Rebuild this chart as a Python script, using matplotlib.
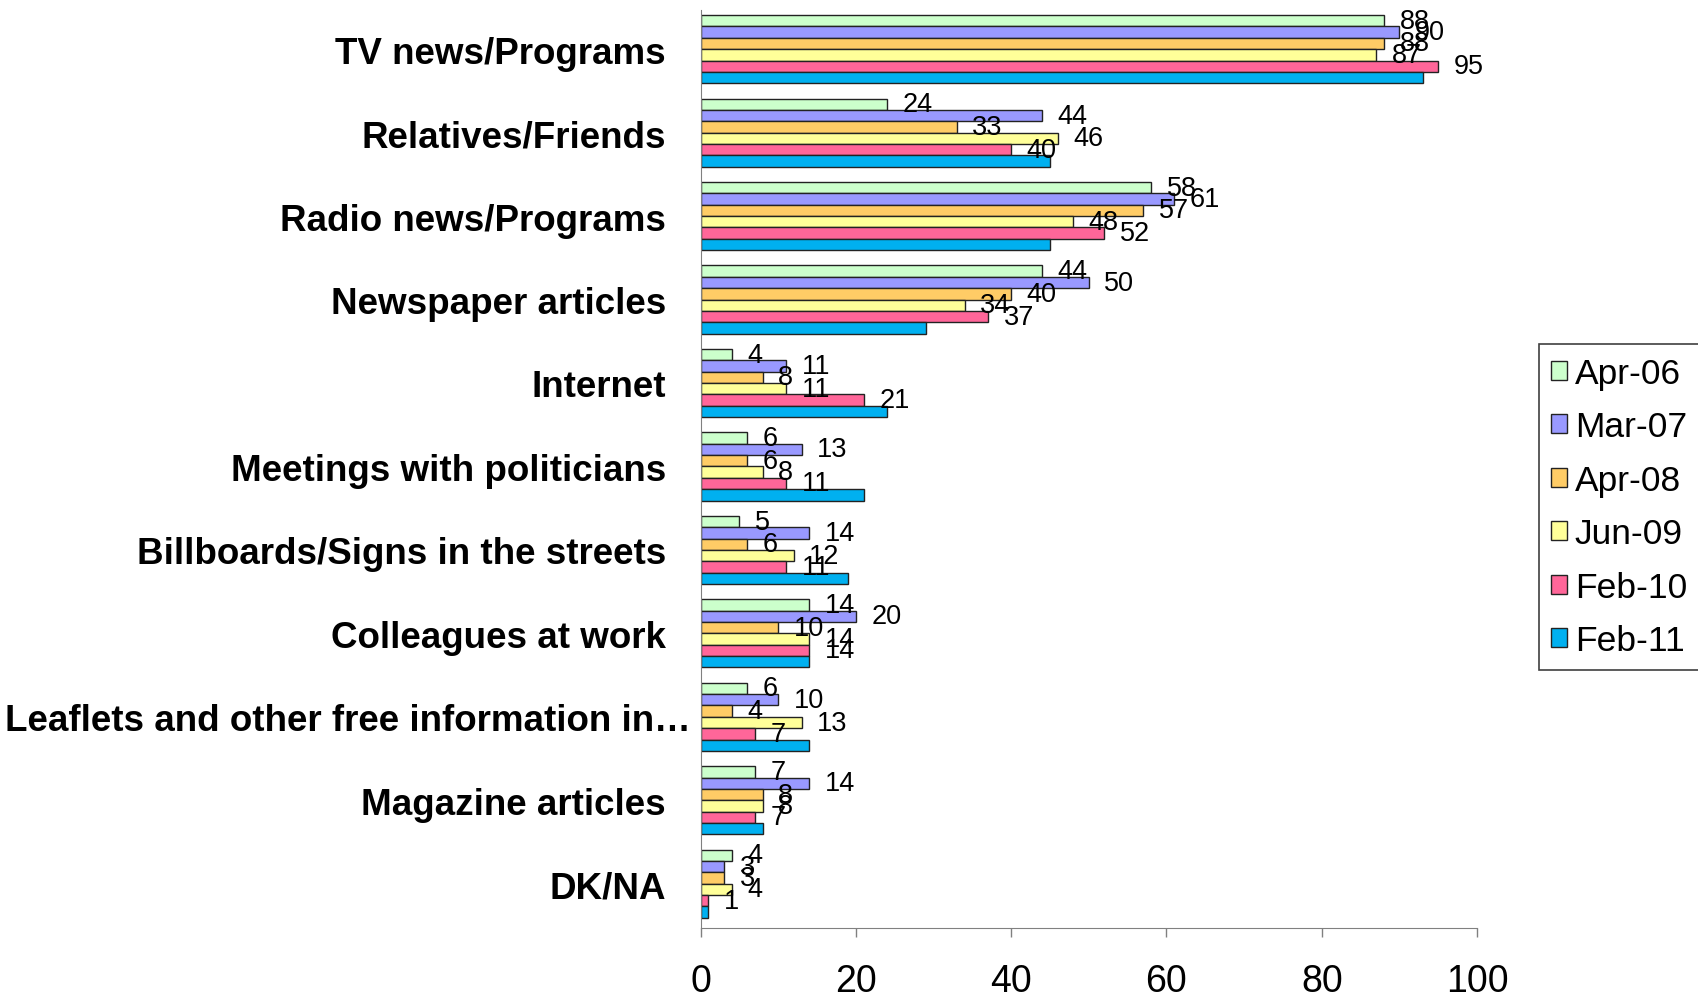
import matplotlib.pyplot as plt
import numpy as np

plt.rcParams['font.family'] = ['Liberation Sans', 'DejaVu Sans']

categories = ['TV news/Programs', 'Relatives/Friends', 'Radio news/Programs',
              'Newspaper articles', 'Internet', 'Meetings with politicians',
              'Billboards/Signs in the streets', 'Colleagues at work',
              'Leaflets and other free information in…', 'Magazine articles', 'DK/NA']
series = ['Apr-06', 'Mar-07', 'Apr-08', 'Jun-09', 'Feb-10', 'Feb-11']

apr06 = [88, 24, 58, 44, 4, 6, 5, 14, 6, 7, 4]
mar07 = [90, 44, 61, 50, 11, 13, 14, 20, 10, 14, 3]
apr08 = [88, 33, 57, 40, 8, 6, 6, 10, 4, 8, 3]
jun09 = [87, 46, 48, 34, 11, 8, 12, 14, 13, 8, 4]
feb10 = [95, 40, 52, 37, 21, 11, 11, 14, 7, 7, 1]
feb11 = [93, 45, 45, 29, 24, 21, 19, 14, 14, 8, 1]

colors = ['#CCFFCC', '#9999FF', '#FFCC66', '#FFFF99', '#FF6699', '#00B0F0']

fig = plt.figure(figsize=(16.98, 10.03), dpi=100)
ax = fig.add_axes([0.4126, 0.0738, 0.4573, 0.9153])

y = np.arange(len(categories))
h = 0.136
data = [apr06, mar07, apr08, jun09, feb10, feb11]
for i, (vals, name, c) in enumerate(zip(data, series, colors)):
    pos = y + (i - 2.5) * h
    ax.barh(pos, vals, height=h, color=c, edgecolor='#222222', linewidth=1, label=name)
    if i < 5:  # last series has no labels in the original
        for p, v in zip(pos, vals):
            ax.text(v + 2, p, str(v), va='center', ha='left', fontsize=19.5)

ax.set_xlim(0, 100)
ax.set_ylim(10.53, -0.47)
ax.set_xticks(range(0, 101, 20))
ax.tick_params(axis='x', direction='out', length=6.5, width=1, color='#808080',
               labelsize=27, pad=19)
ax.set_yticks([])
for s in ['top', 'right']:
    ax.spines[s].set_visible(False)
ax.spines['left'].set_color('#808080')
ax.spines['bottom'].set_color('#808080')

for yi, cat in zip(y, categories):
    xo = -0.0124 if cat.endswith('…') else -0.0446
    ax.text(xo, yi, cat, transform=ax.get_yaxis_transform(), ha='right',
            va='center_baseline', fontsize=26.5, fontweight='bold')

leg = fig.legend(loc='center left', bbox_to_anchor=(1539 / 1698, 0.4935), fontsize=25.5,
                 handlelength=0.45, handleheight=0.45, handletextpad=0.21,
                 labelspacing=0.58, borderpad=0.35, borderaxespad=0,
                 fancybox=False, framealpha=1)
leg.get_frame().set_edgecolor('#404040')
leg.get_frame().set_linewidth(1.2)

fig.savefig('out.png', dpi=100)
